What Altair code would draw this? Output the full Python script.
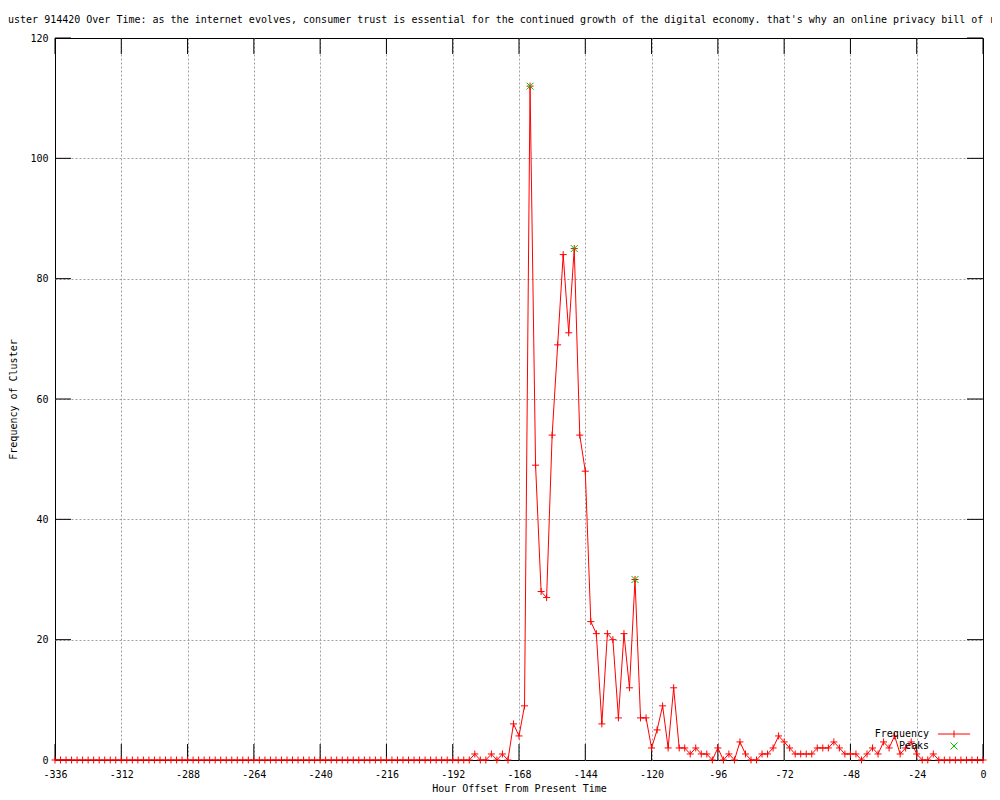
import altair as alt
import pandas as pd

# ---------------- data ----------------
hours = list(range(-336, 1, 2))
frequency = [
    0, 0, 0, 0, 0, 0, 0, 0, 0, 0, 0, 0, 0, 0, 0, 0, 0, 0, 0,
    0, 0, 0, 0, 0, 0, 0, 0, 0, 0, 0, 0, 0, 0, 0, 0, 0, 0, 0,
    0, 0, 0, 0, 0, 0, 0, 0, 0, 0, 0, 0, 0, 0, 0, 0, 0, 0, 0,
    0, 0, 0, 0, 0, 0, 0, 0, 0, 0, 0, 0, 0, 0, 0, 0, 0, 0, 0,
    1, 0, 0, 1, 0, 1, 0, 6, 4, 9,
    112, 49, 28, 27, 54, 69, 84, 71, 85, 54,
    48, 23, 21, 6, 21, 20, 7, 21, 12, 30,
    7, 7, 2, 5, 9, 2, 12, 2, 2, 1,
    2, 1, 1, 0, 2, 0, 1, 0, 3, 1,
    0, 0, 1, 1, 2, 4, 3, 2, 1, 1,
    1, 1, 2, 2, 2, 3, 2, 1, 1, 1,
    0, 1, 2, 1, 3, 2, 4, 1, 2, 3,
    1, 0, 0, 1,
    0, 0, 0, 0, 0, 0, 0, 0, 0,
]
peak_hours = [-164, -148, -126]
peak_freq = [112, 85, 30]
series_names = ["Frequency", "Peaks"]
x_tick_values = [-336, -312, -288, -264, -240, -216, -192, -168, -144, -120, -96, -72, -48, -24, 0]
y_tick_values = [0, 20, 40, 60, 80, 100, 120]
title_text = ("Cluster 914420 Over Time: as the internet evolves, consumer trust is essential "
              "for the continued growth of the digital economy. that's why an online privacy bill of rights")

# ---------------- style ----------------
W, H = 928, 722
FONT = "DejaVu Sans Mono"
RED = "#ff0000"
GREEN = "#00c000"
PLUS = "M-1,0L1,0M0,-1L0,1"
CROSS = "M-1,-1L1,1M1,-1L-1,1"
KEY_LINE = "M-4.6,0L4.6,0M0,-1L0,1"
TICK_X = 16
TICK_Y = 16

df = pd.DataFrame({"hour": hours, "freq": frequency})
peaks = pd.DataFrame({"hour": peak_hours, "freq": peak_freq})
key = pd.DataFrame({"series": series_names, "hour": [0, 0], "freq": [0, 0]})
xt = pd.DataFrame({"hour": x_tick_values})
yt = pd.DataFrame({"freq": y_tick_values})

x_scale = alt.Scale(domain=[-336, 0], nice=False, zero=False)
y_scale = alt.Scale(domain=[0, 120], nice=False, zero=True)

x_axis = alt.Axis(
    values=x_tick_values, labelExpr="'' + datum.value", grid=True, labelFlush=False,
    labelOverlap=False,
    gridOpacity={"condition": {"test": "datum.value == -336 || datum.value == 0", "value": 0}, "value": 1},
    ticks=False, domain=False, labelPadding=9, labelBaseline="top",
    title="Hour Offset From Present Time", titleY=28, titleBaseline="middle",
)
y_axis = alt.Axis(
    values=y_tick_values, labelExpr="'' + datum.value", grid=True, labelFlush=False,
    labelOverlap=False,
    gridOpacity={"condition": {"test": "datum.value == 0 || datum.value == 120", "value": 0}, "value": 1},
    ticks=False, domain=False, labelPadding=7, labelBaseline="middle",
    title="Frequency of Cluster", titleX=-42, titleY=H / 2, titleAngle=270,
    titleAlign="center", titleBaseline="middle",
)

X = alt.X("hour:Q", scale=x_scale, axis=x_axis)
Y = alt.Y("freq:Q", scale=y_scale, axis=y_axis)

ticks_bottom = alt.Chart(xt).mark_rule(color="black", strokeWidth=1).encode(
    x=X, y=alt.value(H), y2=alt.value(H - TICK_X))
ticks_top = alt.Chart(xt).mark_rule(color="black", strokeWidth=1).encode(
    x=X, y=alt.value(0), y2=alt.value(TICK_X))
ticks_left = alt.Chart(yt).mark_rule(color="black", strokeWidth=1).encode(
    y=Y, x=alt.value(0), x2=alt.value(TICK_Y))
ticks_right = alt.Chart(yt).mark_rule(color="black", strokeWidth=1).encode(
    y=Y, x=alt.value(W), x2=alt.value(W - TICK_Y))

line = alt.Chart(df).mark_line(color=RED, strokeWidth=1).encode(x=X, y=Y)
pts = alt.Chart(df).mark_point(shape=PLUS, filled=False, color=RED, size=49,
                               strokeWidth=1, opacity=1).encode(x=X, y=Y)
pk = alt.Chart(peaks).mark_point(shape=CROSS, filled=False, color=GREEN, size=49,
                                 strokeWidth=1, opacity=1).encode(x=X, y=Y)

leg = alt.Legend(title=None, orient="none", legendX=894, legendY=691,
                 labelAlign="right", labelOffset={"expr": "-30"}, labelFont=FONT, labelFontSize=10,
                 labelColor="black", symbolSize=49, symbolStrokeWidth=1, rowPadding=0,
                 padding=0)
keyl = alt.Chart(key).transform_filter("false").mark_point(
    filled=False, opacity=1, strokeWidth=1, size=49).encode(
    x=X, y=Y,
    color=alt.Color("series:N", scale=alt.Scale(domain=series_names, range=[RED, GREEN]), legend=leg),
    shape=alt.Shape("series:N", scale=alt.Scale(domain=series_names, range=[KEY_LINE, CROSS]), legend=leg),
)

chart = alt.layer(ticks_bottom, ticks_top, ticks_left, ticks_right, line, pts, pk, keyl).properties(
    width=W, height=H,
    title=alt.TitleParams(text=title_text, anchor="start", frame="group", dx=-59, font=FONT,
                          fontSize=10, fontWeight="normal", color="black", offset=8),
    autosize=alt.AutoSizeParams(type="none"),
    padding={"left": 47, "top": 30, "right": 9, "bottom": 32},
).configure_view(stroke="black", strokeWidth=1).configure_axis(
    labelFont=FONT, labelFontSize=10, labelColor="black",
    titleFont=FONT, titleFontSize=10, titleFontWeight="normal", titleColor="black",
    gridColor="#a0a0a0", gridDash=[2, 2], gridWidth=1,
)

chart.save("out.html", embed_options={"renderer": "svg", "actions": False})
